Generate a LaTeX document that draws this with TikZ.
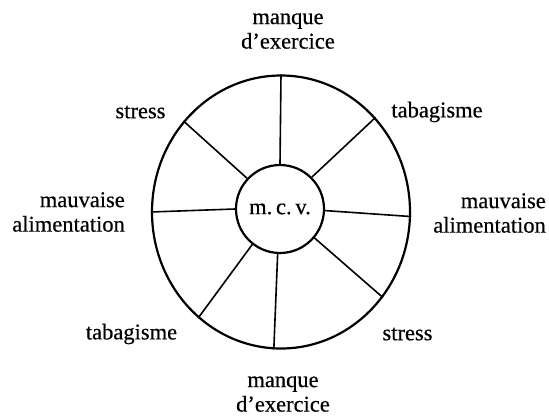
\documentclass[tikz,border=0pt]{standalone}
\usepackage{fontspec}
\setmainfont{Liberation Serif}
\newfontfamily\heavyserif{Liberation Serif}[FakeBold=0.45,Ligatures=TeX]
\usetikzlibrary{shapes.geometric}
\begin{document}
\begin{tikzpicture}[x=1pt,y=-1pt,
  lbl/.style={inner sep=0pt, font=\heavyserif\fontsize{22.5}{24.5}\selectfont},
  ring/.style={draw, line width=2.2pt, inner sep=0pt},
  spoke/.style={line width=1.6pt}]
\useasboundingbox (0,0) rectangle (549,416);
\node[ring, ellipse, minimum width=258pt, minimum height=273pt] (outer) at (281,212) {};
\node[ring, circle, minimum size=88pt, lbl] (mcv) at (280,209) {m.\,c.\,v.};
\foreach \a in {90,45,-2,-40,267,232,180,137}
  \draw[spoke] (mcv.\a) -- (outer.\a);
\node[lbl, align=center] (t1) at (288,31) {manque\\d’exercice};
\node[lbl] (t2) at (140.5,112) {stress};
\node[lbl] (t3) at (437,112) {tabagisme};
\node[lbl, align=right, anchor=east] (t4) at (125,212) {mauvaise\\alimentation};
\node[lbl, align=right, anchor=east] (t5) at (546,213) {mauvaise\\alimentation};
\node[lbl] (t6) at (131.5,334) {tabagisme};
\node[lbl] (t7) at (407.5,334) {stress};
\node[lbl, align=center] (t8) at (283,394) {manque\\d’exercice};
\end{tikzpicture}
\end{document}
